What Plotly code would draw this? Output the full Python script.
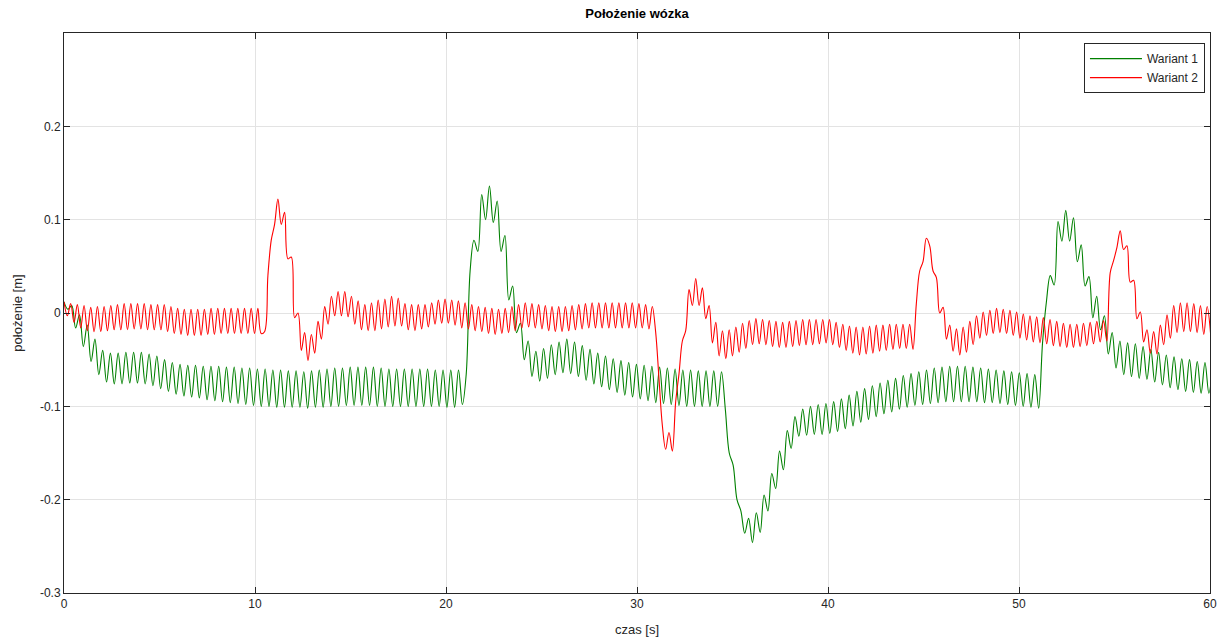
import numpy as np
import plotly.graph_objects as go

# Cart position, sampled at the crests and troughs of the cart oscillation
# (uniform sampling step per run, in seconds)
STEP_W1 = 0.2025
STEP_W2 = 0.175

wariant_1 = [
    0.012, 0.004, 0.008, -0.016, -0.002, -0.036, -0.013, -0.052, -0.028, -0.066,
    -0.040, -0.074, -0.043, -0.076, -0.043, -0.076, -0.042, -0.075, -0.042, -0.075,
    -0.042, -0.076, -0.044, -0.078, -0.046, -0.081, -0.050, -0.084, -0.053, -0.087,
    -0.055, -0.089, -0.056, -0.090, -0.056, -0.091, -0.057, -0.093, -0.057, -0.094,
    -0.057, -0.095, -0.058, -0.096, -0.058, -0.097, -0.059, -0.098, -0.059, -0.099,
    -0.060, -0.100, -0.060, -0.100, -0.061, -0.101, -0.061, -0.101, -0.062, -0.101,
    -0.062, -0.101, -0.063, -0.102, -0.062, -0.101, -0.061, -0.101, -0.060, -0.100,
    -0.059, -0.100, -0.059, -0.099, -0.058, -0.099, -0.058, -0.099, -0.058, -0.099,
    -0.058, -0.100, -0.059, -0.100, -0.060, -0.100, -0.060, -0.100, -0.060, -0.100,
    -0.060, -0.100, -0.060, -0.100, -0.060, -0.100, -0.061, -0.100, -0.061, -0.101,
    -0.061, -0.101, -0.061, -0.098, -0.065, 0.045, 0.078, 0.066, 0.127, 0.100,
    0.136, 0.097, 0.120, 0.066, 0.083, 0.014, 0.029, -0.021, -0.011, -0.050,
    -0.030, -0.068, -0.041, -0.073, -0.038, -0.070, -0.034, -0.066, -0.031, -0.064,
    -0.028, -0.065, -0.031, -0.068, -0.035, -0.072, -0.039, -0.076, -0.043, -0.079,
    -0.046, -0.082, -0.049, -0.085, -0.051, -0.088, -0.053, -0.090, -0.055, -0.092,
    -0.056, -0.094, -0.057, -0.096, -0.058, -0.097, -0.059, -0.098, -0.060, -0.099,
    -0.061, -0.100, -0.061, -0.100, -0.062, -0.100, -0.062, -0.100, -0.062, -0.100,
    -0.063, -0.104, -0.150, -0.163, -0.200, -0.212, -0.236, -0.220, -0.246, -0.214,
    -0.235, -0.195, -0.212, -0.172, -0.188, -0.148, -0.168, -0.126, -0.145, -0.111,
    -0.132, -0.103, -0.131, -0.100, -0.130, -0.098, -0.130, -0.097, -0.129, -0.095,
    -0.127, -0.092, -0.124, -0.088, -0.121, -0.084, -0.117, -0.081, -0.114, -0.078,
    -0.111, -0.075, -0.108, -0.072, -0.106, -0.070, -0.103, -0.067, -0.101, -0.065,
    -0.099, -0.063, -0.098, -0.061, -0.097, -0.059, -0.096, -0.058, -0.095, -0.057,
    -0.095, -0.057, -0.095, -0.057, -0.095, -0.058, -0.095, -0.059, -0.096, -0.060,
    -0.096, -0.061, -0.097, -0.062, -0.098, -0.063, -0.099, -0.064, -0.100, -0.065,
    -0.101, -0.066, -0.102, -0.032, 0.012, 0.040, 0.030, 0.098, 0.077, 0.110,
    0.077, 0.102, 0.055, 0.073, 0.029, 0.039, -0.005, 0.018, -0.018, -0.003,
    -0.044, -0.021, -0.059, -0.030, -0.066, -0.032, -0.068, -0.033, -0.070, -0.036,
    -0.071, -0.039, -0.074, -0.042, -0.077, -0.045, -0.080, -0.047, -0.082, -0.049,
    -0.084, -0.050, -0.085, -0.052, -0.086, -0.053, -0.086, -0.054,
]

wariant_2 = [
    0.012, -0.003, 0.010, -0.010, 0.009, -0.016, 0.008, -0.019, 0.006, -0.020,
    0.007, -0.020, 0.007, -0.019, 0.008, -0.018, 0.009, -0.018, 0.010, -0.018,
    0.010, -0.017, 0.010, -0.017, 0.010, -0.018, 0.009, -0.018, 0.009, -0.018,
    0.009, -0.020, 0.007, -0.022, 0.005, -0.023, 0.004, -0.024, 0.004, -0.024,
    0.004, -0.024, 0.004, -0.023, 0.005, -0.023, 0.005, -0.022, 0.005, -0.022,
    0.005, -0.022, 0.005, -0.022, 0.005, -0.022, 0.005, -0.022, 0.005, -0.022,
    -0.020, 0.040, 0.078, 0.095, 0.122, 0.095, 0.108, 0.058, 0.060, -0.005,
    0.000, -0.040, -0.021, -0.051, -0.023, -0.043, -0.009, -0.028, 0.007, -0.012,
    0.018, -0.003, 0.023, -0.003, 0.023, -0.004, 0.018, -0.012, 0.013, -0.018,
    0.009, -0.019, 0.011, -0.019, 0.014, -0.017, 0.015, -0.015, 0.018, -0.014,
    0.016, -0.014, 0.010, -0.018, 0.009, -0.019, 0.009, -0.017, 0.009, -0.015,
    0.011, -0.012, 0.014, -0.011, 0.015, -0.011, 0.014, -0.013, 0.013, -0.016,
    0.011, -0.017, 0.009, -0.019, 0.007, -0.020, 0.006, -0.022, 0.005, -0.023,
    0.004, -0.022, 0.005, -0.021, 0.007, -0.019, 0.009, -0.016, 0.011, -0.015,
    0.010, -0.016, 0.009, -0.017, 0.008, -0.019, 0.007, -0.020, 0.007, -0.020,
    0.007, -0.019, 0.008, -0.018, 0.009, -0.017, 0.010, -0.016, 0.011, -0.016,
    0.011, -0.016, 0.011, -0.016, 0.011, -0.016, 0.011, -0.016, 0.011, -0.016,
    0.011, -0.016, 0.010, -0.016, 0.009, -0.017, 0.007, -0.020, -0.070, -0.120,
    -0.146, -0.128, -0.148, -0.095, -0.065, -0.030, -0.019, 0.025, 0.008, 0.037,
    0.008, 0.027, -0.006, 0.008, -0.032, -0.010, -0.046, -0.019, -0.049, -0.018,
    -0.046, -0.015, -0.042, -0.011, -0.038, -0.008, -0.034, -0.006, -0.033, -0.007,
    -0.034, -0.008, -0.036, -0.009, -0.037, -0.010, -0.037, -0.009, -0.036, -0.008,
    -0.035, -0.007, -0.034, -0.007, -0.034, -0.007, -0.033, -0.007, -0.032, -0.007,
    -0.034, -0.010, -0.037, -0.012, -0.040, -0.014, -0.043, -0.015, -0.045, -0.015,
    -0.044, -0.014, -0.043, -0.013, -0.041, -0.013, -0.040, -0.012, -0.039, -0.012,
    -0.038, -0.012, -0.038, -0.012, -0.039, 0.010, 0.045, 0.055, 0.080, 0.072,
    0.045, 0.038, 0.000, 0.006, -0.028, -0.013, -0.041, -0.017, -0.045, -0.015,
    -0.042, -0.009, -0.034, -0.003, -0.027, 0.001, -0.024, 0.003, -0.022, 0.005,
    -0.021, 0.004, -0.022, 0.003, -0.024, 0.001, -0.027, -0.001, -0.029, -0.003,
    -0.031, -0.004, -0.032, -0.005, -0.033, -0.007, -0.035, -0.009, -0.036, -0.011,
    -0.037, -0.012, -0.037, -0.012, -0.036, -0.011, -0.035, -0.010, -0.033, -0.009,
    -0.031, -0.008, -0.030, 0.043, 0.056, 0.070, 0.088, 0.068, 0.072, 0.033,
    0.035, -0.006, 0.001, -0.031, -0.018, -0.043, -0.020, -0.044, -0.013, -0.034,
    -0.002, -0.027, 0.008, -0.021, 0.011, -0.020, 0.011, -0.020, 0.010, -0.021,
    0.008, -0.023, 0.007, -0.021,
]

x_ticks = [0, 10, 20, 30, 40, 50, 60]
y_ticks = [-0.3, -0.2, -0.1, 0, 0.1, 0.2]
y_tick_labels = ["-0.3", "-0.2", "-0.1", "0", "0.1", "0.2"]

t1 = np.arange(len(wariant_1)) * STEP_W1
t2 = np.arange(len(wariant_2)) * STEP_W2

AXIS_COLOR = "#262626"
GRID_COLOR = "#e3e3e3"
FONT = "Liberation Sans, Arial, Helvetica, sans-serif"

fig = go.Figure()
fig.add_trace(go.Scatter(
    x=t1, y=wariant_1, mode="lines", name="Wariant 1",
    line=dict(color="#008000", width=1.1, shape="spline", smoothing=1.0),
))
fig.add_trace(go.Scatter(
    x=t2, y=wariant_2, mode="lines", name="Wariant 2",
    line=dict(color="#ff0000", width=1.1, shape="spline", smoothing=1.0),
))

axis_common = dict(
    showline=True, linecolor=AXIS_COLOR, linewidth=1, mirror="allticks",
    ticks="inside", ticklen=6, tickcolor=AXIS_COLOR, tickwidth=1,
    showgrid=True, gridcolor=GRID_COLOR, gridwidth=1, zeroline=False,
    automargin=False,
    tickfont=dict(family=FONT, size=12, color=AXIS_COLOR),
)

fig.update_xaxes(
    range=[0, 60], tickvals=x_ticks,
    title=dict(text="czas [s]", font=dict(family=FONT, size=13, color=AXIS_COLOR), standoff=14),
    **axis_common,
)
fig.update_yaxes(
    range=[-0.3, 0.3], tickvals=y_ticks, ticktext=y_tick_labels,
    title=dict(text="położenie [m]", font=dict(family=FONT, size=13, color=AXIS_COLOR), standoff=14),
    **axis_common,
)

fig.update_layout(
    width=1218, height=639,
    margin=dict(l=64, r=8, t=33, b=46),
    paper_bgcolor="white", plot_bgcolor="white",
    title=dict(
        text="<b>Położenie wózka</b>", x=0.5, xref="paper", xanchor="center",
        y=1 - 13 / 639, yref="container", yanchor="middle",
        font=dict(family=FONT, size=13, color="#000000"),
    ),
    legend=dict(
        x=0.9956, y=0.982, xanchor="right", yanchor="top",
        bgcolor="white", bordercolor=AXIS_COLOR, borderwidth=1,
        font=dict(family=FONT, size=12, color=AXIS_COLOR),
        tracegroupgap=0, itemwidth=52,
    ),
    showlegend=True,
)

fig.write_html("out.html")
